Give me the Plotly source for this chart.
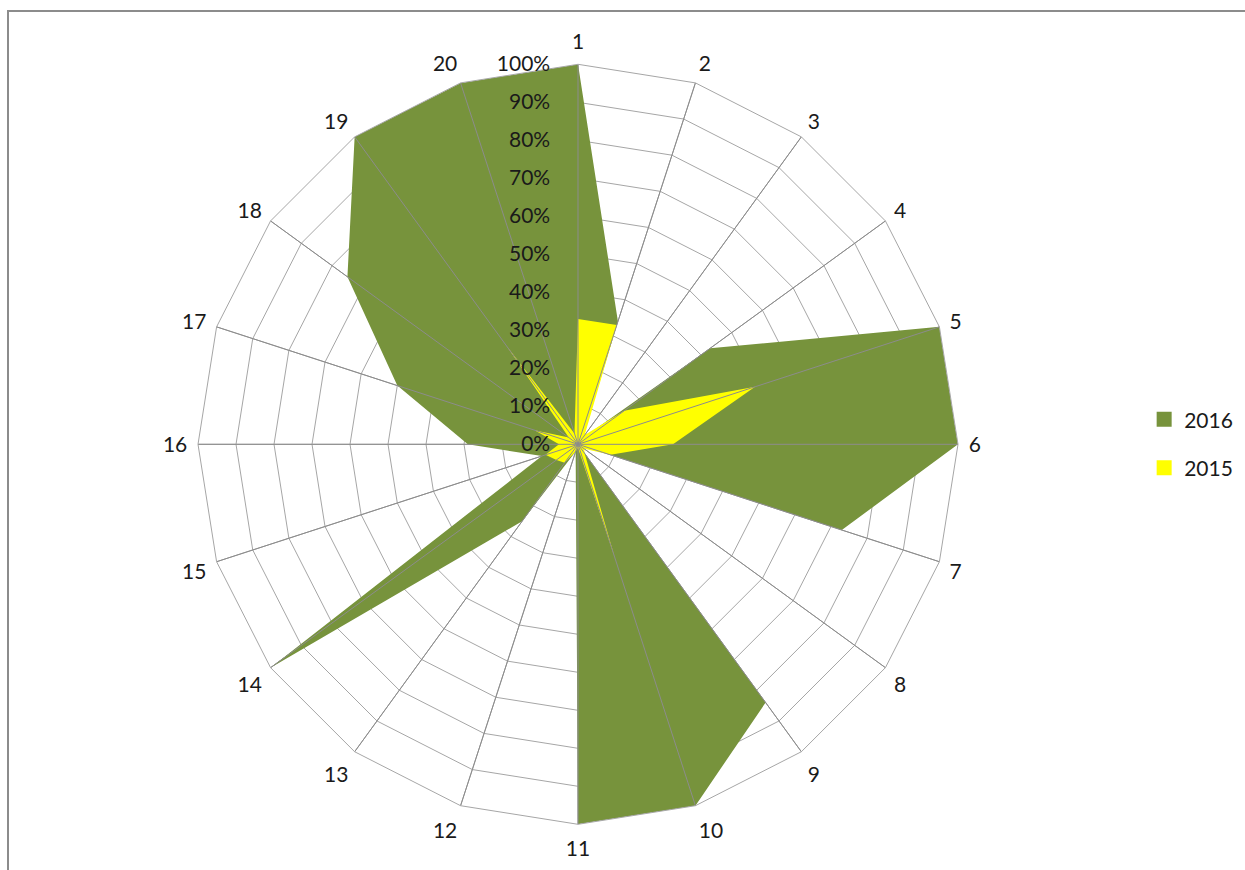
import plotly.graph_objects as go

categories = [str(i) for i in range(1, 21)]
values_2016 = [1.00, 0.34, 0.02, 0.43, 1.00, 1.00, 0.73, 0.00, 0.84, 1.00,
               1.00, 0.02, 0.25, 1.00, 0.10, 0.29, 0.50, 0.75, 1.00, 1.00]
values_2015 = [0.33, 0.33, 0.03, 0.15, 0.49, 0.25, 0.09, 0.02, 0.03, 0.31,
               0.01, 0.02, 0.06, 0.07, 0.09, 0.05, 0.12, 0.03, 0.32, 0.03]
series_names = ["2016", "2015"]
colors = ["#77933C", "#FFFF00"]
radial_ticks = [i / 10 for i in range(0, 11)]

FONT = "Lato"
fig = go.Figure()

for name, vals, col in zip(series_names, [values_2016, values_2015], colors):
    fig.add_trace(go.Scatterpolar(
        r=vals + vals[:1], theta=categories + categories[:1],
        mode="lines", fill="toself", fillcolor=col,
        line=dict(width=0, color=col), name=name, showlegend=False,
        hoverinfo="skip"))

# spokes drawn above the filled areas (as in the reference)
sr, st = [], []
for c in categories:
    sr += [0, 1, None]
    st += [c, c, None]
fig.add_trace(go.Scatterpolar(r=sr, theta=st, mode="lines",
                              line=dict(color="#8C8C8C", width=1),
                              showlegend=False, hoverinfo="skip", connectgaps=False))

# legend entries with square markers
for i, (name, col) in enumerate(zip(series_names, colors)):
    fig.add_trace(go.Scatterpolar(r=[None], theta=[categories[0]], mode="markers",
                                  marker=dict(symbol="square", size=15, color=col),
                                  name=name, legendgroup=name, showlegend=True))

fig.update_layout(
    width=1245, height=870,
    margin=dict(l=0, r=0, t=0, b=0),
    paper_bgcolor="white",
    font=dict(family=FONT, size=21, color="#1A1A1A"),
    showlegend=True,
    legend=dict(x=0.919, y=0.49, xanchor="left", yanchor="middle",
                traceorder="grouped", tracegroupgap=18,
                font=dict(family=FONT, size=21, color="#1A1A1A"),
                itemwidth=30, bgcolor="rgba(0,0,0,0)"),
    polar=dict(
        domain=dict(x=[198 / 1245, 958 / 1245], y=[45.7 / 870, 805.7 / 870]),
        bgcolor="white",
        gridshape="linear",
        angularaxis=dict(type="category", categoryarray=categories,
                         rotation=90, direction="clockwise",
                         showline=True, linecolor="#A6A6A6", linewidth=1,
                         showgrid=True, gridcolor="#A0A0A0", gridwidth=1,
                         ticks="outside", ticklen=6, tickcolor="rgba(0,0,0,0)",
                         tickfont=dict(family=FONT, size=21, color="#1A1A1A")),
        radialaxis=dict(range=[0, 1], tickvals=radial_ticks, tickformat=".0%",
                        angle=90, side="counterclockwise", tickangle=90,
                        showline=False, ticks="outside", ticklen=20,
                        tickcolor="rgba(0,0,0,0)",
                        showgrid=True, gridcolor="#A6A6A6", gridwidth=1,
                        tickfont=dict(family=FONT, size=21, color="#1A1A1A")),
    ),
    shapes=[dict(type="rect", xref="paper", yref="paper",
                 x0=8 / 1245, x1=1.02, y0=-0.02, y1=(870 - 11) / 870,
                 line=dict(color="#8C8C8C", width=2), fillcolor="rgba(0,0,0,0)",
                 layer="below")],
)

fig.write_html("out.html")
